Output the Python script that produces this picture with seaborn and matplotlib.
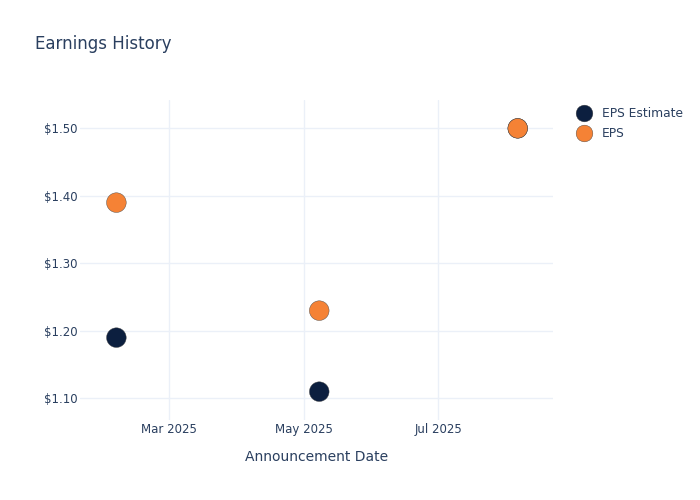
import pandas as pd
import seaborn as sns
import matplotlib.pyplot as plt
import matplotlib.dates as mdates

# data
dates = ["2025-02-05", "2025-05-08", "2025-08-06"]
eps_estimate = [1.19, 1.11, 1.50]
eps_actual = [1.39, 1.23, 1.50]

TEXT = "#2a3f5f"
GRID = "#ebf0f8"
COLORS = {"EPS Estimate": "#0c1f3f", "EPS": "#f58235"}

df = pd.DataFrame({
    "Date": pd.to_datetime(dates * 2),
    "Value": eps_estimate + eps_actual,
    "Series": ["EPS Estimate"] * 3 + ["EPS"] * 3,
})

sns.set_theme(style="white")
plt.rcParams.update({
    "font.family": ["DejaVu Sans"],
    "text.color": TEXT,
    "axes.labelcolor": TEXT,
    "xtick.color": TEXT,
    "ytick.color": TEXT,
})

fig = plt.figure(figsize=(7, 5), dpi=100)
ax = fig.add_axes([80 / 700, 80 / 500, 473 / 700, 320 / 500])

sns.scatterplot(data=df, x="Date", y="Value", hue="Series", palette=COLORS,
                s=200, edgecolor="#444444", linewidth=0.3, ax=ax, zorder=3)

ax.set_xlim(pd.Timestamp("2025-01-19 12:00"), pd.Timestamp("2025-08-22"))
ax.set_ylim(1.068, 1.542)
ax.set_yticks([1.1, 1.2, 1.3, 1.4, 1.5])
ax.yaxis.set_major_formatter(plt.FuncFormatter(lambda v, _: f"${v:.2f}"))
ax.xaxis.set_major_locator(mdates.MonthLocator(bymonth=[3, 5, 7]))
ax.xaxis.set_major_formatter(mdates.DateFormatter("%b %Y"))

ax.grid(True, color=GRID, linewidth=1)
ax.set_axisbelow(True)
for sp in ax.spines.values():
    sp.set_visible(False)
ax.tick_params(axis="both", length=0, labelsize=8.5)
ax.tick_params(axis="x", pad=2)
ax.tick_params(axis="y", pad=1.5)

ax.set_xlabel("Announcement Date", fontsize=10, labelpad=10)
ax.set_ylabel("")

fig.text(35 / 700, 1 - 44 / 500, "Earnings History", fontsize=12,
         color=TEXT, va="center", ha="left")

leg = ax.legend(loc="upper left", bbox_to_anchor=(572 / 700, 1 - 107 / 500),
                bbox_transform=fig.transFigure, frameon=False,
                fontsize=8.8, handletextpad=0.45, labelspacing=0.6,
                borderaxespad=0.0, borderpad=0.0, markerscale=0.85)
for t in leg.get_texts():
    t.set_color(TEXT)

fig.savefig("out.png", dpi=100)
